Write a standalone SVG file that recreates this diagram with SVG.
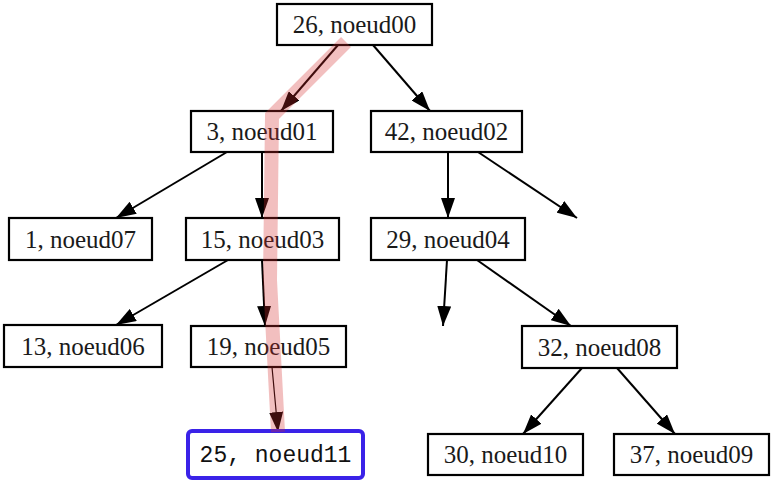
<svg xmlns="http://www.w3.org/2000/svg" width="775" height="481" viewBox="0 0 775 481">
<style>
.box{fill:#fff;stroke:#000;stroke-width:2.2}
.lbl{font-family:"Liberation Serif",serif;font-size:25px;fill:#1a1a1a;text-anchor:middle}
.mono{font-family:"Liberation Mono",monospace;font-size:23px;fill:#111;text-anchor:middle}
.edge{stroke:#000;stroke-width:2;fill:none;marker-end:url(#arr)}
</style>
<defs>
<marker id="arr" markerUnits="userSpaceOnUse" markerWidth="20" markerHeight="14" refX="20" refY="7" orient="auto">
<path d="M0,0 L20,7 L0,14 z" fill="#000"/>
</marker>
</defs>
<rect width="775" height="481" fill="#fff"/>
<g id="connectors">
<line class="edge" x1="338" y1="45" x2="281" y2="111"/>
<line class="edge" x1="373" y1="45" x2="430" y2="111"/>
<line class="edge" x1="227" y1="152" x2="116" y2="218"/>
<line class="edge" x1="262" y1="152" x2="262" y2="218"/>
<line class="edge" x1="448" y1="152" x2="448" y2="218"/>
<line class="edge" x1="478" y1="152" x2="577" y2="218"/>
<line class="edge" x1="228" y1="260" x2="116" y2="325"/>
<line class="edge" x1="262" y1="260" x2="265" y2="326"/>
<line class="edge" x1="447" y1="260" x2="443" y2="326"/>
<line class="edge" x1="477" y1="260" x2="571" y2="326"/>
<line class="edge" x1="582" y1="368" x2="523" y2="434"/>
<line class="edge" x1="617" y1="368" x2="675" y2="434"/>
<line class="edge" x1="272" y1="367" x2="278" y2="432" style="stroke-width:1.2"/>
</g>
<g id="noeud00"><rect class="box" x="277" y="4" width="155" height="41"/><text class="lbl" x="354.5" y="33">26, noeud00</text></g>
<g id="noeud01"><rect class="box" x="191" y="111" width="142" height="41"/><text class="lbl" x="262" y="140">3, noeud01</text></g>
<g id="noeud02"><rect class="box" x="371" y="111" width="151" height="41"/><text class="lbl" x="446.5" y="140">42, noeud02</text></g>
<g id="noeud07"><rect class="box" x="9" y="218" width="143" height="42"/><text class="lbl" x="80.5" y="247.5">1, noeud07</text></g>
<g id="noeud03"><rect class="box" x="186" y="218" width="153" height="42"/><text class="lbl" x="262.5" y="247.5">15, noeud03</text></g>
<g id="noeud04"><rect class="box" x="371" y="218" width="154" height="42"/><text class="lbl" x="448" y="247.5">29, noeud04</text></g>
<g id="noeud06"><rect class="box" x="4" y="325" width="158" height="42"/><text class="lbl" x="83" y="354.5">13, noeud06</text></g>
<g id="noeud05"><rect class="box" x="191" y="326" width="155" height="41"/><text class="lbl" x="268.5" y="355">19, noeud05</text></g>
<g id="noeud08"><rect class="box" x="522" y="326" width="155" height="42"/><text class="lbl" x="599.5" y="355.5">32, noeud08</text></g>
<g id="noeud11"><rect x="188" y="431" width="175" height="47" rx="4" fill="#fff" stroke="#3a22e8" stroke-width="4"/><text class="mono" x="275.5" y="462">25, noeud11</text></g>
<g id="noeud10"><rect class="box" x="428" y="434" width="155" height="41"/><text class="lbl" x="505.5" y="463">30, noeud10</text></g>
<g id="noeud09"><rect class="box" x="614" y="434" width="155" height="41"/><text class="lbl" x="691.5" y="463">37, noeud09</text></g>
<g id="highlight">
<polyline points="346,42 272,116 270,280 278,432" fill="none" stroke="#d42a2a" stroke-opacity="0.3" stroke-width="14" stroke-linejoin="miter"/>
</g>
</svg>
